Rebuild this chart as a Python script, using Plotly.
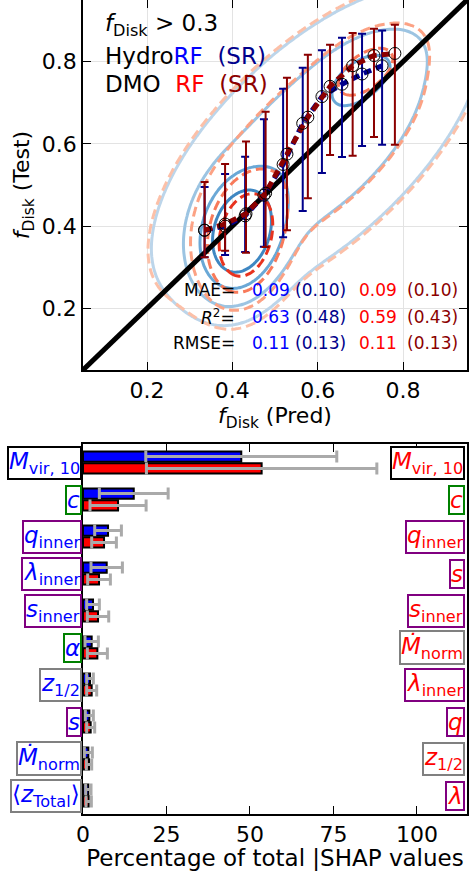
import numpy as np
import plotly.graph_objects as go

# ---------------- data: top panel (binned medians) ----------------
bin_x_hydro = [0.335, 0.383, 0.430, 0.474, 0.519, 0.565, 0.610, 0.657, 0.704, 0.751]
med_hydro   = [0.390, 0.400, 0.425, 0.475, 0.550, 0.650, 0.715, 0.745, 0.770, 0.790]
lo_hydro    = [0.324, 0.330, 0.337, 0.350, 0.373, 0.437, 0.529, 0.568, 0.595, 0.598]
hi_hydro    = [0.495, 0.527, 0.569, 0.660, 0.734, 0.785, 0.828, 0.858, 0.868, 0.876]

bin_x_dmo = [0.335, 0.383, 0.432, 0.478, 0.528, 0.577, 0.629, 0.682, 0.732, 0.781]
med_dmo   = [0.390, 0.405, 0.430, 0.480, 0.575, 0.665, 0.740, 0.790, 0.815, 0.820]
lo_dmo    = [0.324, 0.340, 0.335, 0.349, 0.390, 0.468, 0.573, 0.571, 0.617, 0.598]
hi_dmo    = [0.507, 0.551, 0.606, 0.678, 0.761, 0.817, 0.841, 0.870, 0.880, 0.890]

# density model (gaussian mixture) for the contour decoration
hydro_mu_x = [0.42, 0.60, 0.71]
hydro_mu_y = [0.38, 0.60, 0.77]
hydro_sd_x = [0.055, 0.205, 0.06]
hydro_sd_y = [0.08, 0.205, 0.05]
hydro_rho  = [0.2, 0.65, 0.5]
hydro_w    = [1.0, 0.27, 0.25]

dmo_mu_x = [0.43, 0.60, 0.72]
dmo_mu_y = [0.37, 0.60, 0.79]
dmo_sd_x = [0.05, 0.21, 0.06]
dmo_sd_y = [0.08, 0.21, 0.05]
dmo_rho  = [0.2, 0.65, 0.5]
dmo_w    = [1.0, 0.27, 0.25]

contour_levels = [0.045, 0.13, 0.32, 0.6]
hydro_colors = ['#bcd5ea', '#9cc4e2', '#6aa8d6', '#3f87c2']
dmo_colors   = ['#fcc0a8', '#fca284', '#f87a5a', '#e8331f']

stats_names = ['MAE=', '<i>R</i><sup>2</sup>=', 'RMSE=']
stats_hydro_rf = ['0.09', '0.63', '0.11']
stats_hydro_sr = ['(0.10)', '(0.48)', '(0.13)']
stats_dmo_rf   = ['0.09', '0.59', '0.11']
stats_dmo_sr   = ['(0.10)', '(0.43)', '(0.13)']

# ---------------- data: bottom panel (SHAP importances) ----------------
hydro_labels = ['<i>M</i><sub>vir, 10</sub>', '<i>c</i>', '<i>q</i><sub>inner</sub>',
                '<i>λ</i><sub>inner</sub>', '<i>s</i><sub>inner</sub>', '<i>α</i>',
                '<i>z</i><sub>1/2</sub>', '<i>s</i>', '<i>M\u0307</i><sub>norm</sub>',
                '⟨<i>z</i><sub>Total</sub>⟩']
hydro_box = ['black', 'green', 'purple', 'purple', 'purple', 'green', 'gray', 'purple', 'gray', 'gray']
dmo_labels = ['<i>M</i><sub>vir, 10</sub>', '<i>c</i>', '<i>q</i><sub>inner</sub>',
              '<i>s</i>', '<i>s</i><sub>inner</sub>', '<i>M\u0307</i><sub>norm</sub>',
              '<i>λ</i><sub>inner</sub>', '<i>q</i>', '<i>z</i><sub>1/2</sub>', '<i>λ</i>']
dmo_box = ['black', 'green', 'purple', 'purple', 'purple', 'gray', 'purple', 'purple', 'gray', 'purple']

hydro_shap     = [47.4, 15.2, 7.5, 7.1, 3.0, 2.6, 2.1, 1.9, 1.6, 1.6]
hydro_shap_err = [28.6, 10.3, 4.0, 4.7, 1.9, 2.0, 1.0, 1.2, 1.2, 0.8]
dmo_shap       = [53.5, 10.5, 6.3, 4.8, 4.5, 4.3, 2.6, 2.3, 1.8, 1.7]
dmo_shap_err   = [34.5, 8.4, 3.7, 3.4, 3.2, 3.0, 1.5, 1.2, 0.8, 0.8]

FONT = 'DejaVu Sans'
W, H = 470, 871

fig = go.Figure()

# ---- contours ----
g = np.linspace(0.0, 1.0, 161)
GX, GY = np.meshgrid(g, g)

def mixture(mx, my, sx, sy, rho, w):
    Z = np.zeros_like(GX)
    for a, b, c, d, r, ww in zip(mx, my, sx, sy, rho, w):
        u = (GX - a) / c
        v = (GY - b) / d
        Z += ww * np.exp(-(u * u - 2 * r * u * v + v * v) / (2 * (1 - r * r)))
    return Z

Zh = mixture(hydro_mu_x, hydro_mu_y, hydro_sd_x, hydro_sd_y, hydro_rho, hydro_w)
Zd = mixture(dmo_mu_x, dmo_mu_y, dmo_sd_x, dmo_sd_y, dmo_rho, dmo_w)

for Z, cols, dash in [(Zh, hydro_colors, 'solid'), (Zd, dmo_colors, '10px,5px')]:
    for lvl, col in zip(contour_levels, cols):
        fig.add_trace(go.Contour(x=g, y=g, z=Z, xaxis='x', yaxis='y',
                                 contours=dict(start=lvl, end=lvl, size=1, coloring='lines'),
                                 colorscale=[[0, col], [1, col]], showscale=False,
                                 line=dict(width=3, dash=dash, smoothing=1),
                                 hoverinfo='skip', showlegend=False))

# 1:1 line
fig.add_trace(go.Scatter(x=[0.05, 0.95], y=[0.05, 0.95], mode='lines',
                         line=dict(color='black', width=5), xaxis='x', yaxis='y',
                         showlegend=False, hoverinfo='skip'))

for bx, med, lo, hi, col in [(bin_x_hydro, med_hydro, lo_hydro, hi_hydro, '#00008b'),
                             (bin_x_dmo, med_dmo, lo_dmo, hi_dmo, '#8b0000')]:
    up = [h - m for h, m in zip(hi, med)]
    dn = [m - l for m, l in zip(med, lo)]
    fig.add_trace(go.Scatter(x=bx, y=med, mode='lines', xaxis='x', yaxis='y',
                             line=dict(color=col, width=5, dash='8px,5px'),
                             error_y=dict(type='data', symmetric=False, array=up, arrayminus=dn,
                                          color=col, thickness=2, width=4),
                             showlegend=False, hoverinfo='skip'))
for bx, med in [(bin_x_hydro, med_hydro), (bin_x_dmo, med_dmo)]:
    fig.add_trace(go.Scatter(x=bx, y=med, mode='markers', xaxis='x', yaxis='y',
                             marker=dict(symbol='circle-open', size=12, color='black',
                                         line=dict(width=1, color='black')),
                             showlegend=False, hoverinfo='skip'))

# ---- bars ----
rows = list(range(len(hydro_shap)))
fig.add_trace(go.Bar(x=hydro_shap, y=[r - 0.16 for r in rows], orientation='h', width=0.28,
                     marker=dict(color='#0000ff', line=dict(color='black', width=2)),
                     error_x=dict(type='data', array=hydro_shap_err, color='#aaaaaa', thickness=3, width=6),
                     xaxis='x2', yaxis='y2', showlegend=False, hoverinfo='skip'))
fig.add_trace(go.Bar(x=dmo_shap, y=[r + 0.16 for r in rows], orientation='h', width=0.28,
                     marker=dict(color='#ff0000', line=dict(color='black', width=2)),
                     error_x=dict(type='data', array=dmo_shap_err, color='#aaaaaa', thickness=3, width=6),
                     xaxis='x2', yaxis='y2', showlegend=False, hoverinfo='skip'))

ann = []
# top-left legend text
ann.append(dict(x=103 / W, y=1 - 25 / H, xref='paper', yref='paper', xanchor='left', yanchor='middle',
                text='<i>f</i><sub>Disk</sub> > 0.3', showarrow=False,
                font=dict(size=23, color='black', family=FONT)))
ann.append(dict(x=103 / W, y=1 - 56 / H, xref='paper', yref='paper', xanchor='left', yanchor='middle',
                text="Hydro<span style='color:#0000ff'>RF</span>  <span style='color:#00008b'>(SR)</span>",
                showarrow=False, font=dict(size=23, color='black', family=FONT)))
ann.append(dict(x=103 / W, y=1 - 84 / H, xref='paper', yref='paper', xanchor='left', yanchor='middle',
                text="DMO  <span style='color:#ff0000'>RF</span>  <span style='color:#8b0000'>(SR)</span>",
                showarrow=False, font=dict(size=23, color='black', family=FONT)))

stat_y = [290, 317, 343]
for i, yy in enumerate(stat_y):
    yp = 1 - yy / H
    ann.append(dict(x=237 / W, y=yp, xref='paper', yref='paper', xanchor='right', yanchor='middle',
                    text=stats_names[i], showarrow=False, font=dict(size=17, color='black', family=FONT)))
    for xx, txt, col in [(250, stats_hydro_rf[i], '#0000ff'), (293, stats_hydro_sr[i], '#00008b'),
                         (357, stats_dmo_rf[i], '#ff0000'), (405, stats_dmo_sr[i], '#8b0000')]:
        ann.append(dict(x=xx / W, y=yp, xref='paper', yref='paper', xanchor='left', yanchor='middle',
                        text=txt, showarrow=False, font=dict(size=17, color=col, family=FONT)))

# bottom labels
for i in rows:
    ann.append(dict(x=82 / W, y=i, xref='paper', yref='y2', xanchor='right', yanchor='middle',
                    text=hydro_labels[i], showarrow=False, bgcolor='white',
                    bordercolor=hydro_box[i], borderwidth=2, borderpad=0,
                    font=dict(size=23, color='#0000ff', family=FONT)))
    ann.append(dict(x=465 / W, y=i, xref='paper', yref='y2', xanchor='right', yanchor='middle',
                    text=dmo_labels[i], showarrow=False, bgcolor='white',
                    bordercolor=dmo_box[i], borderwidth=2, borderpad=0,
                    font=dict(size=23, color='#ff0000', family=FONT)))

axis_common = dict(ticks='inside', ticklen=8, tickwidth=1, tickcolor='black', showline=True,
                   linecolor='black', linewidth=1.5, mirror='ticks', zeroline=False, automargin=False,
                   tickfont=dict(size=22, color='black', family=FONT))

fig.update_layout(
    width=W, height=H, margin=dict(l=0, r=0, t=0, b=0, autoexpand=False),
    paper_bgcolor='white', plot_bgcolor='white', barmode='overlay',
    font=dict(family=FONT, color='black'),
    xaxis=dict(domain=[83 / W, 467 / W], range=[0.05, 0.95], anchor='y',
               tickvals=[0.2, 0.4, 0.6, 0.8], tickformat='.1f', showgrid=True, gridcolor='#e3e3e3',
               title=dict(text='<i>f</i><sub>Disk</sub> (Pred)', font=dict(size=22), standoff=2),
               **axis_common),
    yaxis=dict(domain=[1 - 370 / H, 1.0], range=[0.05, 0.95], anchor='x',
               tickvals=[0.2, 0.4, 0.6, 0.8], tickformat='.1f', showgrid=True, gridcolor='#e3e3e3',
               title=dict(text='<i>f</i><sub>Disk</sub> (Test)', font=dict(size=22), standoff=6),
               **axis_common),
    xaxis2=dict(domain=[83 / W, 467 / W], range=[0, 115], anchor='y2',
                tickvals=[0, 25, 50, 75, 100], showgrid=False,
                title=dict(text='Percentage of total |SHAP values', font=dict(size=23), standoff=0),
                **axis_common),
    yaxis2=dict(domain=[1 - 814 / H, 1 - 444 / H], range=[9.5, -0.5], anchor='x2',
                showticklabels=False, ticks='', showline=True, linecolor='black', linewidth=1.5,
                mirror=True, showgrid=False, zeroline=False, automargin=False),
    annotations=ann,
)

fig.write_html('out.html')
